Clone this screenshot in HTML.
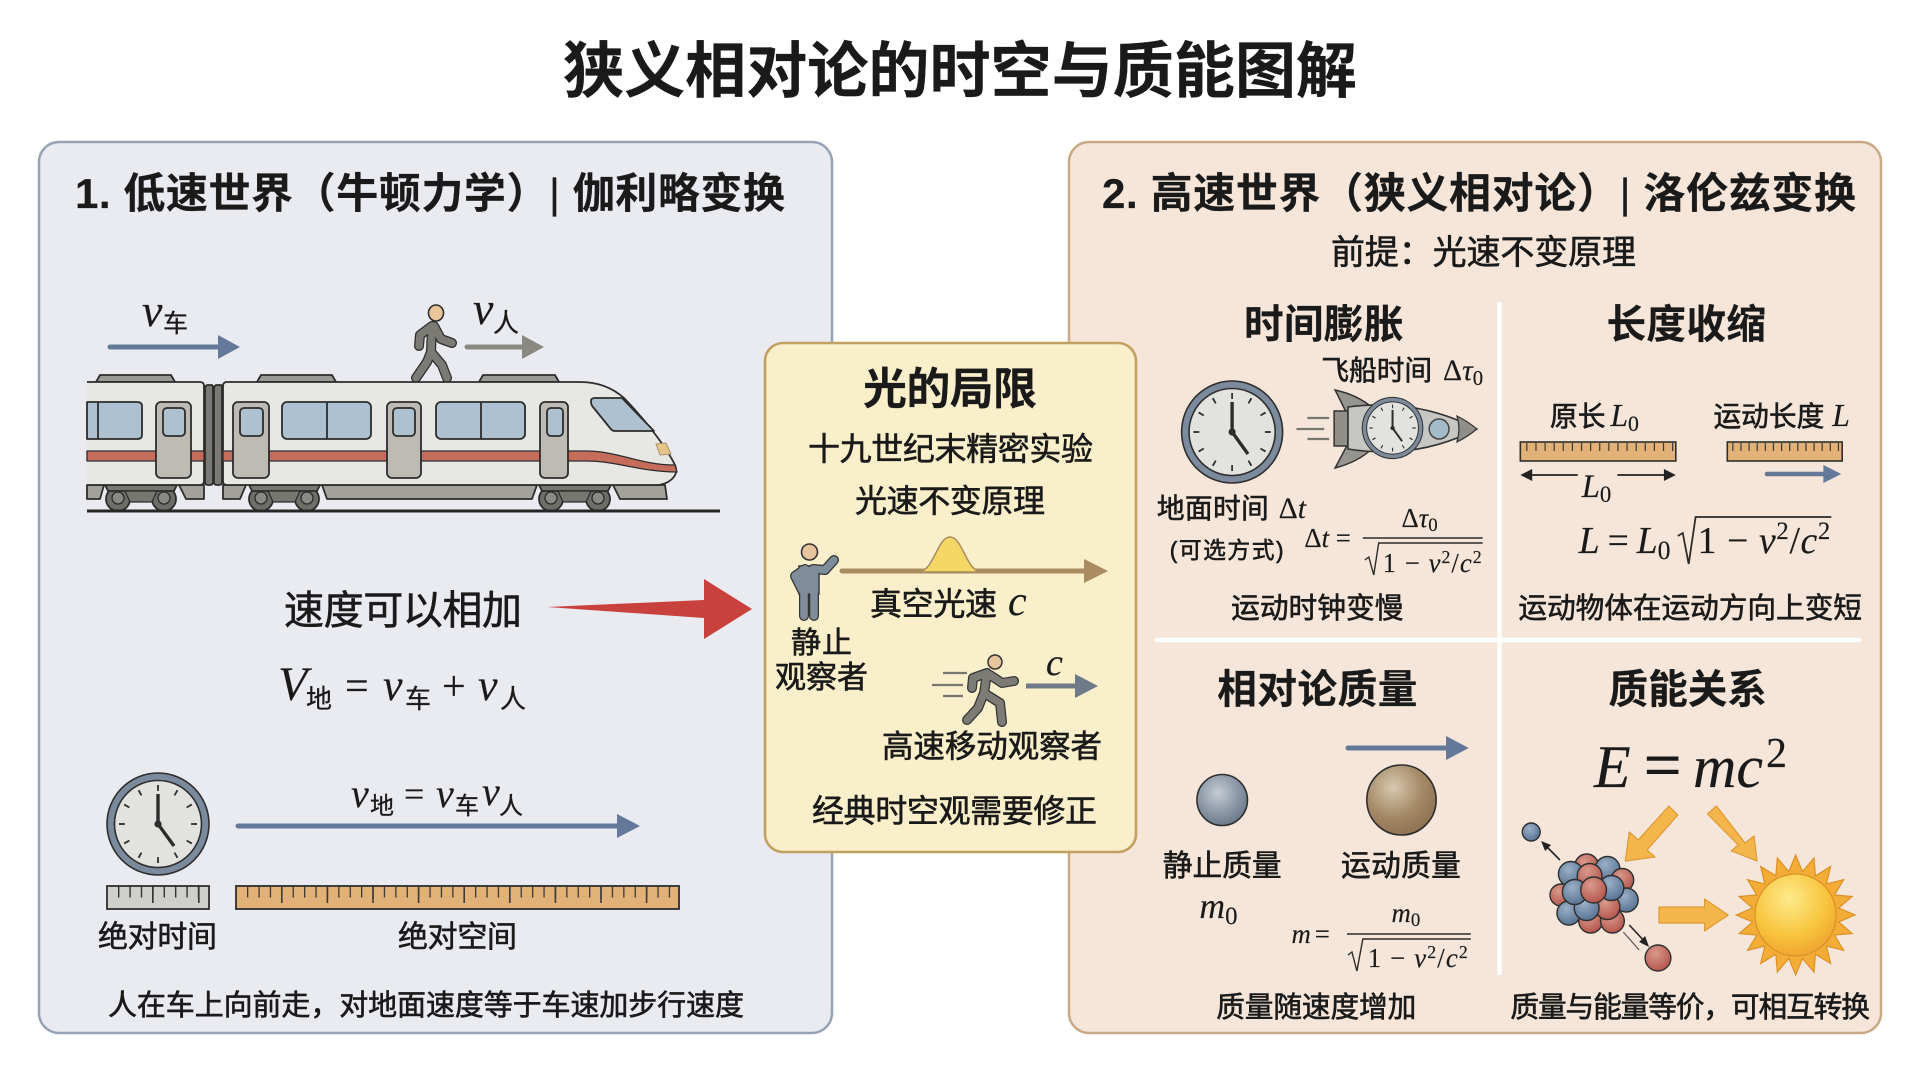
<!DOCTYPE html>
<html lang="zh"><head><meta charset="utf-8"><title>狭义相对论的时空与质能图解</title>
<style>
html,body{margin:0;padding:0;background:#fff}
svg{display:block}
text{font-family:"Liberation Sans","Noto Sans CJK SC",sans-serif;fill:#1a1a1a;stroke:#1a1a1a;stroke-width:.6px}
.b{font-weight:700;stroke-width:.2px}
.m{font-family:"Liberation Serif","Noto Sans CJK SC",serif;font-style:italic;stroke-width:.15px}
.r{font-family:"Liberation Serif",serif;stroke-width:.15px}
.z{font-family:"Noto Sans CJK SC",sans-serif;stroke-width:.3px}
.fig{fill:none;stroke-linecap:round;stroke-linejoin:round}
</style></head><body>
<svg width="1920" height="1072" viewBox="0 0 1920 1072" xmlns="http://www.w3.org/2000/svg">
<defs>
<radialGradient id="gb" cx=".42" cy=".36" r=".7"><stop offset="0" stop-color="#c6ccd2"/><stop offset=".55" stop-color="#8d99a8"/><stop offset="1" stop-color="#667486"/></radialGradient>
<radialGradient id="br" cx=".38" cy=".32" r=".75"><stop offset="0" stop-color="#d8c8b0"/><stop offset=".55" stop-color="#a58a68"/><stop offset="1" stop-color="#8a6e4e"/></radialGradient>
<radialGradient id="sn" cx=".42" cy=".3" r=".75"><stop offset="0" stop-color="#fdeb8c"/><stop offset=".6" stop-color="#f8c53e"/><stop offset="1" stop-color="#eea02c"/></radialGradient>
<radialGradient id="rd" cx=".4" cy=".32" r=".7"><stop offset="0" stop-color="#d99a8c"/><stop offset="1" stop-color="#b4554c"/></radialGradient>
<radialGradient id="bl" cx=".4" cy=".32" r=".7"><stop offset="0" stop-color="#9cb0c6"/><stop offset="1" stop-color="#567293"/></radialGradient>
<g id="clock">
<circle r="51" fill="#7b8a9c" stroke="#2e2e2e" stroke-width="1.6"/>
<circle r="43.5" fill="#e2e3df" stroke="#2e2e2e" stroke-width="1.6"/>
<circle r="36" fill="none" stroke="#333" stroke-width="6" pathLength="120" stroke-dasharray="1 9" stroke-dashoffset=".5"/>
<path d="M0 0V-30" stroke="#2c2c2c" stroke-width="3.4"/><path d="M0 0L16 22" stroke="#2c2c2c" stroke-width="3.4"/><circle r="3.6" fill="#2c2c2c"/>
</g>
</defs>
<rect width="1920" height="1072" fill="#fff"/>

<text class="b" x="563" y="92" font-size="61" textLength="794" lengthAdjust="spacingAndGlyphs">狭义相对论的时空与质能图解</text>

<!-- panels -->
<rect x="39" y="142" width="793" height="891" rx="20" fill="#e9ebf1" stroke="#95a3b4" stroke-width="2.5"/>
<rect x="1069" y="142" width="812" height="891" rx="20" fill="#f5e6d9" stroke="#c9a986" stroke-width="2.5"/>

<!-- LEFT -->
<text class="b" x="75" y="208" font-size="42" textLength="710">1. 低速世界（牛顿力学）<tspan font-weight="400">|</tspan> 伽利略变换</text>

<path d="M110 347H222" stroke="#64789a" stroke-width="5" stroke-linecap="round"/><path d="M218 335L240 347L218 359Z" fill="#64789a"/>
<path d="M467 347H528" stroke="#8a8a82" stroke-width="5" stroke-linecap="round"/><path d="M522 335L544 347L522 359Z" fill="#8a8a82"/>
<text class="m" x="142" y="326" font-size="46">v</text><text class="z" x="163" y="332" font-size="25">车</text>
<text class="m" x="473" y="324" font-size="46">v</text><text class="z" x="493" y="332" font-size="26">人</text>

<!-- walking person -->
<g class="fig" stroke="#2d2d2d" stroke-width="10"><path d="M432 326L431 352L427 362L416 378M431 352L442 365L447 378M432 326L420 335L419 346M434 326L441 339L452 343"/></g>
<g class="fig" stroke="#7b7a74" stroke-width="7.5"><path d="M432 326L431 352L427 362L416 378M431 352L442 365L447 378M432 326L420 335L419 346M434 326L441 339L452 343"/></g>
<ellipse cx="436" cy="313" rx="7.5" ry="8" fill="#e9c59a" stroke="#2d2d2d" stroke-width="1.6"/>

<!-- train -->
<g stroke="#2c2c2c" stroke-width="1.8" stroke-linejoin="round">
<path d="M96 382L100 375H171L175 382Z M257 382L261 375H332L336 382Z M479 382L483 375H555L559 382Z" fill="#9a9993"/>
<path d="M87 485H104L100 499H87Z M179 485H204V499H186Z M223 485H246L240 499H223Z M322 485H537L532 499H327Z M613 485H665L667 499H620Z" fill="#a3a29a"/>
<g fill="#6e6d67"><circle cx="118" cy="499" r="12"/><circle cx="164" cy="499" r="12"/><circle cx="261" cy="499" r="12"/><circle cx="307" cy="499" r="12"/><circle cx="551" cy="499" r="12"/><circle cx="598" cy="499" r="12"/></g>
<g fill="#8a8983" stroke-width="1.3"><circle cx="118" cy="498" r="6"/><circle cx="164" cy="498" r="6"/><circle cx="261" cy="498" r="6"/><circle cx="307" cy="498" r="6"/><circle cx="551" cy="498" r="6"/><circle cx="598" cy="498" r="6"/></g>
<path d="M105 485H177L174 491H108Z M249 485H320L317 491H252Z M539 485H611L608 491H542Z" fill="#77766f"/>
<path d="M125 491H157L152 502H130Z M268 491H300L295 502H273Z M558 491H591L586 502H563Z" fill="#77766f" stroke-width="1.2"/>
<path d="M205 389Q205 385 208 385H212Q213 385 213 389V482Q213 485 210 485H208Q205 485 205 482Z M214 389Q214 385 217 385H221Q222 385 222 389V482Q222 485 219 485H217Q214 485 214 482Z" fill="#7a7a74"/>
<path d="M87 382H200Q204 382 204 386V481Q204 485 200 485H87Z" fill="#e7e7e3" stroke="none"/>
<path d="M87 382H200Q204 382 204 386V481Q204 485 200 485H87" fill="none"/>
<path d="M227 382H580Q606 382 624 398C645 420 665 445 675 465C680 476 668 485 656 485H227Q223 485 223 481V386Q223 382 227 382Z" fill="#e7e7e3"/>
<path d="M87 451H204V461H87Z M223 451H586C618 451 640 465 675 465L677 472C640 472 618 461 586 461H223Z" fill="#c56c5a" stroke-width="1.3"/>
<g fill="#adc1d0">
<path d="M87 402H137Q142 402 142 406V435Q142 439 137 439H87Z"/><path d="M98 402V439"/>
<rect x="282" y="402" width="89" height="37" rx="5"/><path d="M327 402V439"/>
<rect x="436" y="402" width="89" height="37" rx="5"/><path d="M481 402V439"/>
<path d="M591 401Q591 398 595 398H622L654 431H615Q612 431 610 428L593 407Q591 405 591 401Z"/>
</g>
<g fill="#bdbbb3"><rect x="156" y="402" width="35" height="76" rx="5"/><rect x="233" y="402" width="36" height="76" rx="5"/><rect x="387" y="402" width="34" height="76" rx="5"/><rect x="540" y="402" width="28" height="76" rx="5"/></g>
<g fill="#adc1d0"><rect x="163" y="408" width="22" height="28" rx="4"/><rect x="240" y="408" width="23" height="28" rx="4"/><rect x="393" y="408" width="22" height="28" rx="4"/><rect x="547" y="408" width="16" height="28" rx="4"/></g>
<path d="M656 444L666 443L671 454L660 455Z" fill="#e6c58c" stroke="#a89268" stroke-width="1"/>
</g>
<path d="M87 511H720" stroke="#262626" stroke-width="3"/>

<!-- speed -->
<text x="284" y="624" font-size="40" textLength="238">速度可以相加</text>
<path d="M547 607L704 600V579L752 609L704 639V618Z" fill="#c8413d"/>
<text class="m" x="278" y="700" font-size="48">V</text><text class="z" x="306" y="708" font-size="26">地</text>
<text class="r" x="345" y="700" font-size="42">=</text>
<text class="m" x="383" y="700" font-size="44">v</text><text class="z" x="405" y="708" font-size="26">车</text>
<text class="r" x="442" y="700" font-size="42">+</text>
<text class="m" x="478" y="700" font-size="44">v</text><text class="z" x="500" y="708" font-size="26">人</text>

<!-- bottom left -->
<use href="#clock" x="158" y="824"/>
<text class="m" x="351" y="807" font-size="40">v</text><text class="z" x="370" y="814" font-size="24">地</text>
<text class="r" x="404" y="806" font-size="36">=</text>
<text class="m" x="436" y="807" font-size="40">v</text><text class="z" x="455" y="814" font-size="24">车</text>
<text class="m" x="482" y="805" font-size="40">v</text><text class="z" x="499" y="814" font-size="24">人</text>
<path d="M238 826H620" stroke="#64789a" stroke-width="5" stroke-linecap="round"/><path d="M617 814L640 826L617 838Z" fill="#64789a"/>

<rect x="107" y="886" width="102" height="23" fill="#cfcfcc" stroke="#2e2e2e" stroke-width="1.8"/>
<path d="M118 892H208" stroke="#333" stroke-width="11" stroke-dasharray="1.4 10"/><path d="M152 895H200" stroke="#333" stroke-width="16" stroke-dasharray="1.6 44.4"/>
<rect x="236" y="886" width="443" height="23" fill="#e1b177" stroke="#2e2e2e" stroke-width="1.8"/>
<path d="M247 892H678" stroke="#3a3a3a" stroke-width="11" stroke-dasharray="1.3 10.1"/><path d="M281 895H678" stroke="#3a3a3a" stroke-width="16" stroke-dasharray="1.6 44"/>
<text x="98" y="947" font-size="30" textLength="119">绝对时间</text>
<text x="398" y="947" font-size="30" textLength="119">绝对空间</text>
<text x="108" y="1015" font-size="29" textLength="636">人在车上向前走，对地面速度等于车速加步行速度</text>

<!-- RIGHT -->
<text class="b" x="1102" y="208" font-size="42" textLength="754">2. 高速世界（狭义相对论）<tspan font-weight="400">|</tspan> 洛伦兹变换</text>
<text x="1331" y="264" font-size="34" textLength="305">前提：光速不变原理</text>
<path d="M1155 640H1861" stroke="#fff" stroke-width="4.5"/>

<g transform="translate(1140 0) scale(.9904 1) translate(-1140 0)">
<path d="M1503 302V975" stroke="#fff" stroke-width="4.5"/>
<text class="b" x="1245" y="338" font-size="40" textLength="161">时间膨胀</text>
<text class="b" x="1611" y="338" font-size="40" textLength="161">长度收缩</text>

<!-- time dilation -->
<use href="#clock" x="1233" y="432"/>
<path d="M1309 418H1331M1298 429H1326M1309 439H1331" stroke="#77766f" stroke-width="2.2"/>
<path d="M1337 390Q1360 395 1375 408L1350 416ZM1337 468Q1360 462 1374 449L1352 440Z" fill="#95948e" stroke="#333" stroke-width="1.5"/>
<path d="M1336 411H1350V446H1336Z" fill="#8f8e88" stroke="#333" stroke-width="1.5"/>
<path d="M1350 407Q1420 398 1480 429Q1420 460 1350 449Z" fill="#c6c6c2" stroke="#333" stroke-width="1.6"/>
<path d="M1460 416Q1472 422 1480 429Q1472 436 1460 442Q1464 429 1460 416Z" fill="#8f8e88" stroke="#333" stroke-width="1.2"/>
<circle cx="1442" cy="429" r="10" fill="#a3bccb" stroke="#444" stroke-width="1.5"/>
<use href="#clock" transform="translate(1395 428) scale(.6)"/>
<text x="1323" y="380" font-size="28" textLength="112">飞船时间</text><text class="r" x="1446" y="380" font-size="30">Δ<tspan class="m" font-style="italic">τ</tspan><tspan font-size="21" dy="5">0</tspan></text>
<text x="1157" y="518" font-size="28" textLength="113">地面时间</text><text class="r" x="1280" y="518" font-size="30">Δ<tspan font-style="italic">t</tspan></text>
<text x="1170" y="558" font-size="23" textLength="115">(可选方式)</text>
<text class="r" x="1306" y="547" font-size="27">Δ<tspan font-style="italic">t</tspan> =</text>
<text class="r" x="1404" y="527" font-size="27">Δ<tspan font-style="italic">τ</tspan><tspan font-size="19" dy="4">0</tspan></text>
<path d="M1365 538H1486" stroke="#2a2a2a" stroke-width="1.6"/>
<path d="M1367 560L1371 557L1376 575L1381 543H1486" fill="none" stroke="#2a2a2a" stroke-width="1.4"/>
<text class="r" x="1385" y="572" font-size="27" textLength="100">1 − <tspan font-style="italic">v</tspan><tspan font-size="18" dy="-9">2</tspan><tspan dy="9">/</tspan><tspan font-style="italic">c</tspan><tspan font-size="18" dy="-9">2</tspan></text>
<text x="1232" y="618" font-size="29" textLength="174">运动时钟变慢</text>

<!-- length -->
<text x="1554" y="426" font-size="28" textLength="56">原长</text><text class="m" x="1615" y="426" font-size="32">L<tspan font-size="22" font-style="normal" dy="5">0</tspan></text>
<text x="1719" y="426" font-size="28" textLength="112">运动长度</text><text class="m" x="1839" y="426" font-size="32">L</text>
<rect x="1524" y="442" width="157" height="19" fill="#e1b177" stroke="#2e2e2e" stroke-width="1.6"/>
<path d="M1530 447H1680" stroke="#3a3a3a" stroke-width="8" stroke-dasharray="1.2 8"/>
<rect x="1733" y="442" width="116" height="19" fill="#e1b177" stroke="#2e2e2e" stroke-width="1.6"/>
<path d="M1738 447H1848" stroke="#3a3a3a" stroke-width="8" stroke-dasharray="1.2 7"/>
<path d="M1530 475H1582M1622 475H1675" stroke="#222" stroke-width="1.8"/><path d="M1524 475L1536 469V481ZM1681 475L1669 469V481Z" fill="#222"/>
<text class="m" x="1586" y="497" font-size="33">L<tspan font-size="23" font-style="normal" dy="5">0</tspan></text>
<path d="M1773 474H1835" stroke="#64789a" stroke-width="4.5" stroke-linecap="round"/><path d="M1830 465L1848 474L1830 483Z" fill="#64789a"/>
<text class="m" x="1583" y="553" font-size="38">L<tspan font-style="normal" dx="8">=</tspan><tspan dx="8">L</tspan><tspan font-style="normal" font-size="26" dy="6">0</tspan></text>
<path d="M1683 536L1688 533L1694 564L1701 517H1838" fill="none" stroke="#2a2a2a" stroke-width="1.8"/>
<text class="r" x="1703" y="553" font-size="38" textLength="134">1 − <tspan font-style="italic">v</tspan><tspan font-size="25" dy="-14">2</tspan><tspan dy="14">/</tspan><tspan font-style="italic">c</tspan><tspan font-size="25" dy="-14">2</tspan></text>
<text x="1522" y="618" font-size="29" textLength="347">运动物体在运动方向上变短</text>

<!-- mass -->
<text class="b" x="1218" y="703" font-size="40" textLength="202">相对论质量</text>
<text class="b" x="1613" y="703" font-size="40" textLength="160">质能关系</text>
<path d="M1350 748H1452" stroke="#64789a" stroke-width="5" stroke-linecap="round"/><path d="M1449 736L1472 748L1449 760Z" fill="#64789a"/>
<ellipse cx="1223" cy="800" rx="25.5" ry="25.5" fill="url(#gb)" stroke="#2e2e2e" stroke-width="1.6"/>
<ellipse cx="1404" cy="800" rx="35" ry="35" fill="url(#br)" stroke="#2e2e2e" stroke-width="1.6"/>
<text x="1163" y="876" font-size="30" textLength="120">静止质量</text>
<text x="1343" y="876" font-size="30" textLength="121">运动质量</text>
<text class="m" x="1200" y="918" font-size="36">m<tspan font-size="25" font-style="normal" dy="6">0</tspan></text>
<text class="m" x="1293" y="943" font-size="27">m<tspan font-style="normal" dx="4">=</tspan></text>
<text class="m" x="1394" y="922" font-size="27">m<tspan font-size="19" font-style="normal" dy="4">0</tspan></text>
<path d="M1349 934H1474" stroke="#2a2a2a" stroke-width="1.6"/>
<path d="M1350 955L1354 952L1359 971L1365 939H1474" fill="none" stroke="#2a2a2a" stroke-width="1.4"/>
<text class="r" x="1370" y="967" font-size="27" textLength="101">1 − <tspan font-style="italic">v</tspan><tspan font-size="18" dy="-9">2</tspan><tspan dy="9">/</tspan><tspan font-style="italic">c</tspan><tspan font-size="18" dy="-9">2</tspan></text>
<text x="1217" y="1017" font-size="29" textLength="202">质量随速度增加</text>
<text x="1514" y="1017" font-size="29" textLength="363">质量与能量等价，可相互转换</text>

<g fill="#f4b64a" stroke="#dd9a34" stroke-width="1.2" stroke-linejoin="round">
<path d="M1674 806L1683 815L1652 850L1660 857L1630 861L1634 832L1643 840Z"/>
<path d="M1713 814L1722 806L1751 843L1760 836L1763 861L1737 851L1744 845Z"/>
<path d="M1664 907H1710V899L1734 915L1710 931V923H1664Z"/>
</g>
<!-- nucleus -->
<g stroke="#2e2e2e" stroke-width="1.4">
<circle cx="1591" cy="866" r="12" fill="url(#rd)"/><circle cx="1612" cy="869" r="12.5" fill="url(#bl)"/><circle cx="1627" cy="880" r="11.5" fill="url(#rd)"/>
<circle cx="1565" cy="895" r="11" fill="url(#rd)"/><circle cx="1631" cy="900" r="12" fill="url(#bl)"/>
<circle cx="1575" cy="874" r="12.5" fill="url(#bl)"/><circle cx="1594" cy="876" r="12.5" fill="url(#rd)"/>
<circle cx="1573" cy="913" r="12" fill="url(#bl)"/><circle cx="1595" cy="921" r="12" fill="url(#rd)"/><circle cx="1617" cy="921" r="12" fill="url(#rd)"/>
<circle cx="1612" cy="907" r="12.5" fill="url(#rd)"/><circle cx="1616" cy="888" r="12.5" fill="url(#bl)"/>
<circle cx="1591" cy="908" r="12.5" fill="url(#bl)"/><circle cx="1579" cy="892" r="12.5" fill="url(#bl)"/><circle cx="1598" cy="890" r="13" fill="url(#rd)"/>
</g>
<circle cx="1535" cy="832" r="9" fill="url(#bl)" stroke="#2e2e2e" stroke-width="1.4"/>
<circle cx="1663" cy="958" r="13" fill="url(#rd)" stroke="#2e2e2e" stroke-width="1.4"/>
<path d="M1564 860L1549 845" stroke="#222" stroke-width="1.6"/><path d="M1545 841L1555 845L1549 851Z" fill="#222"/>
<path d="M1634 925L1650 942" stroke="#222" stroke-width="1.6"/><path d="M1654 947L1644 942L1650 936Z" fill="#222"/>
<path d="M1628 932L1644 950" stroke="#555" stroke-width="1.2"/>
<!-- sun -->
<g transform="translate(1802 915)">
<polygon points="60,0 43.5,6.9 57,18.5 39.2,20 48.5,35.3 31.1,31.1 35.3,48.5 20,39.2 18.5,57 6.9,43.5 0,60 -6.9,43.5 -18.5,57 -20,39.2 -35.3,48.5 -31.1,31.1 -48.5,35.3 -39.2,20 -57,18.5 -43.5,6.9 -60,0 -43.5,-6.9 -57,-18.5 -39.2,-20 -48.5,-35.3 -31.1,-31.1 -35.3,-48.5 -20,-39.2 -18.5,-57 -6.9,-43.5 0,-60 6.9,-43.5 18.5,-57 20,-39.2 35.3,-48.5 31.1,-31.1 48.5,-35.3 39.2,-20 57,-18.5 43.5,-6.9" fill="#f3ad36" stroke="#db9127" stroke-width="1.2"/>
<circle r="41" fill="url(#sn)" stroke="#d98f28" stroke-width="1.2"/>
</g>
</g>

<!-- E=mc2 -->
<text class="m" y="787" font-size="60"><tspan x="1594">E</tspan><tspan x="1644" font-style="normal" font-size="66" stroke-width=".9">=</tspan><tspan x="1693">mc</tspan><tspan x="1766" font-style="normal" font-size="42" y="767">2</tspan></text>

<!-- CENTER -->
<rect x="765" y="343" width="371" height="509" rx="18" fill="#f9efcb" stroke="#c2a061" stroke-width="2.6"/>
<text class="b" x="863" y="404" font-size="44" textLength="174">光的局限</text>
<text x="808" y="460" font-size="32" textLength="285">十九世纪末精密实验</text>
<text x="855" y="512" font-size="32" textLength="190">光速不变原理</text>

<g class="fig" stroke="#333" stroke-width="10"><path d="M804 592V616M814 592V616M805 569L795 576L802 590M813 569L825 570L834 560"/></g>
<path d="M799 566H819V594H799Z" fill="#7f8c9a" stroke="#333" stroke-width="1.4"/>
<g class="fig" stroke="#7f8c9a" stroke-width="7.5"><path d="M804 592V616M814 592V616M805 569L795 576L802 590M813 569L825 570L834 560"/></g>
<circle cx="809.5" cy="552" r="8" fill="#e6c49c" stroke="#333" stroke-width="1.6"/>

<path d="M842 571H1088" stroke="#a98c62" stroke-width="5" stroke-linecap="round"/><path d="M1084 559L1108 571L1084 583Z" fill="#a98c62"/>
<path d="M918 572C934 572 937 537 950 537C963 537 966 572 982 572Z" fill="#f6d765" stroke="#a98c62" stroke-width="1.5"/>
<text x="870" y="615" font-size="32" textLength="127">真空光速</text><text class="m" x="1008" y="615" font-size="42">c</text>
<text x="791" y="653" font-size="30" textLength="61">静止</text>
<text x="775" y="688" font-size="31" textLength="93">观察者</text>

<path d="M943 673H967M932 685H963M943 696H963" stroke="#77766f" stroke-width="2.2"/>
<g class="fig" stroke="#333" stroke-width="10"><path d="M987 673L984 693L1000 703L1002 722M984 693L978 708L967 720M987 673L973 678L972 688M990 675L1002 683L1014 681"/></g>
<g class="fig" stroke="#7c7b75" stroke-width="7.5"><path d="M987 673L984 693L1000 703L1002 722M984 693L978 708L967 720M987 673L973 678L972 688M990 675L1002 683L1014 681"/></g>
<circle cx="995" cy="662" r="7" fill="#e6c49c" stroke="#333" stroke-width="1.5"/>

<text class="m" x="1046" y="675" font-size="38">c</text>
<path d="M1026 686H1078" stroke="#6f7a88" stroke-width="5"/><path d="M1075 674L1098 686L1075 698Z" fill="#6f7a88"/>
<text x="882" y="757" font-size="31.5" textLength="220">高速移动观察者</text>
<text x="812" y="822" font-size="32" textLength="285">经典时空观需要修正</text>
</svg>
</body></html>
